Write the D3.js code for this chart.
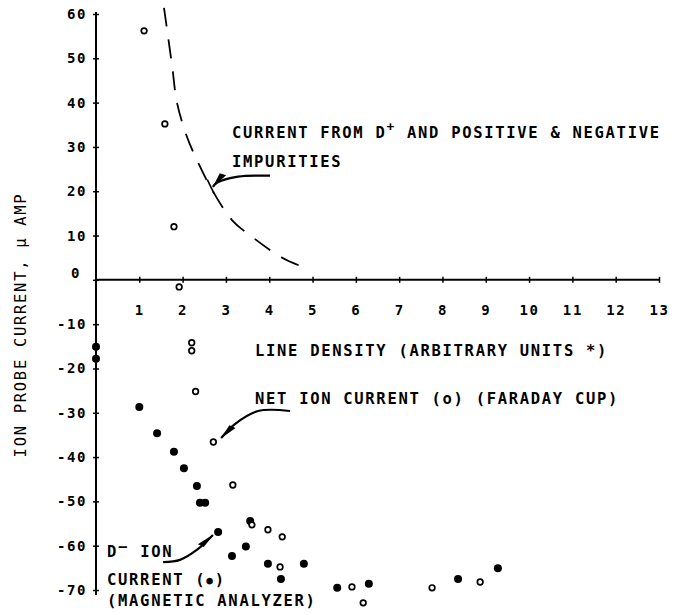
<!DOCTYPE html>
<html lang="en">
<head>
    <meta charset="UTF-8">
    <title>Ion Probe Current vs Line Density</title>
    <style>
        body {
            margin: 0;
            padding: 0;
            background-color: #ffffff;
        }

        svg text {
            font-family: "DejaVu Sans Mono", monospace;
            font-weight: bold;
            fill: #000;
        }

        .axis text {
            font-size: 14px;
            letter-spacing: 1.6px;
        }

        .note {
            font-size: 15.5px;
            letter-spacing: 1.7px;
        }
    </style>
</head>
<body>

<div id="chart"></div>

<script src="https://d3js.org/d3.v7.min.js"></script>
<script>
    // Tick values
    const xTicks = [1, 2, 3, 4, 5, 6, 7, 8, 9, 10, 11, 12, 13];
    const yTicks = [60, 50, 40, 30, 20, 10, 0, -10, -20, -30, -40, -50, -60, -70];

    // Net ion current (Faraday cup), open circles
    const netX = [1.11, 1.59, 1.80, 1.92, 2.21, 2.21, 2.30, 2.71, 3.16, 3.60, 3.97, 4.30, 4.25, 5.91, 6.17, 7.76, 8.87];
    const netY = [56.2, 35.2, 12.0, -1.6, -14.2, -16.0, -25.2, -36.6, -46.3, -55.3, -56.4, -58.0, -64.8, -69.3, -72.9, -69.5, -68.2];

    // D- ion current (magnetic analyzer), filled circles
    const dX = [0, 0, 1.00, 1.41, 1.80, 2.03, 2.33, 2.40, 2.52, 2.82, 3.14, 3.46, 3.56, 3.97, 4.27, 4.80, 5.57, 6.30, 8.36, 9.28];
    const dY = [-15.1, -17.8, -28.7, -34.6, -38.8, -42.5, -46.5, -50.3, -50.3, -56.9, -62.3, -60.2, -54.4, -64.1, -67.5, -64.1, -69.5, -68.6, -67.5, -65.1];

    // Current from D+ and impurities, dashed curve
    const curveX = [1.57, 1.76, 1.87, 2.10, 2.38, 2.63, 3.14, 3.63, 4.30, 4.83];
    const curveY = [61.4, 48.1, 40.0, 32.3, 26.0, 21.2, 13.5, 9.5, 5.0, 2.7];

    const width = 685,
          height = 615;

    const svg = d3.select("#chart").append("svg")
        .attr("width", width)
        .attr("height", height);

    const x = d3.scaleLinear().domain([0, 13]).range([96, 659]);
    const y = d3.scaleLinear().domain([-70, 60]).range([590, 14]);

    // arrowhead (slim wedge)
    svg.append("defs").append("marker")
        .attr("id", "head")
        .attr("viewBox", "-20 -6 22 12")
        .attr("refX", 0)
        .attr("refY", 0)
        .attr("markerUnits", "userSpaceOnUse")
        .attr("markerWidth", 22)
        .attr("markerHeight", 12)
        .attr("orient", "auto")
        .append("path")
        .attr("d", "M1,0 L-17,-4.5 L-15,1.8 Z")
        .attr("fill", "#000");

    // Axes
    const yAxis = svg.append("g")
        .attr("class", "axis")
        .attr("transform", `translate(${x(0)},0)`)
        .call(d3.axisLeft(y).tickValues(yTicks).tickSize(3).tickPadding(6).tickFormat(d => String(d)));

    const xAxis = svg.append("g")
        .attr("class", "axis")
        .attr("transform", `translate(0,${y(0)})`)
        .call(d3.axisBottom(x).tickValues(xTicks).tickSize(3).tickPadding(22).tickFormat(d => String(d)));

    svg.selectAll(".axis .domain").remove();
    yAxis.selectAll(".tick line").attr("x1", 3).attr("stroke-width", 1.5);
    xAxis.selectAll(".tick line").attr("y1", -3).attr("stroke-width", 1.5);
    yAxis.selectAll(".tick text").filter(d => d === 0)
        .attr("dy", "-0.15em")
        .attr("x", -15);

    svg.append("line")
        .attr("x1", x(0)).attr("x2", x(0))
        .attr("y1", y(60) - 2).attr("y2", y(-70) + 5)
        .attr("stroke", "#000").attr("stroke-width", 2);

    svg.append("line")
        .attr("x1", x(0)).attr("x2", x(13) + 1)
        .attr("y1", y(0)).attr("y2", y(0))
        .attr("stroke", "#000").attr("stroke-width", 2);

    // Dashed curve
    const curveData = curveX.map((v, i) => ({ x: v, y: curveY[i] }));
    svg.append("path")
        .datum(curveData)
        .attr("fill", "none")
        .attr("stroke", "#000")
        .attr("stroke-width", 1.8)
        .attr("stroke-dasharray", "19,13")
        .attr("d", d3.line().x(d => x(d.x)).y(d => y(d.y)).curve(d3.curveCatmullRom));

    // Points
    const netData = netX.map((v, i) => ({ x: v, y: netY[i] }));
    const dData = dX.map((v, i) => ({ x: v, y: dY[i] }));

    svg.append("g")
        .selectAll("circle")
        .data(dData)
        .enter().append("circle")
        .attr("cx", d => x(d.x))
        .attr("cy", d => y(d.y))
        .attr("r", 4)
        .attr("fill", "#000");

    svg.append("g")
        .selectAll("circle")
        .data(netData)
        .enter().append("circle")
        .attr("cx", d => x(d.x))
        .attr("cy", d => y(d.y))
        .attr("r", 2.8)
        .attr("fill", "#fff")
        .attr("stroke", "#000")
        .attr("stroke-width", 1.7);

    // Annotation arrows (data units)
    const arrows = [
        [[4.02, 23.5], [3.28, 23.3], [2.79, 21.9], [2.70, 21.0]],
        [[4.48, -29.6], [3.74, -29.6], [3.20, -32.6], [2.89, -35.7]],
        [[1.55, -63.7], [1.94, -63.2], [2.35, -60.8], [2.70, -57.6]]
    ];

    svg.append("g")
        .selectAll("path")
        .data(arrows)
        .enter().append("path")
        .attr("d", d => d3.line().x(p => x(p[0])).y(p => y(p[1])).curve(d3.curveCatmullRom)(d))
        .attr("fill", "none")
        .attr("stroke", "#000")
        .attr("stroke-width", 2.2)
        .attr("marker-end", "url(#head)");

    // small cross mark on dashed curve
    svg.append("line")
        .attr("x1", x(2.57)).attr("y1", y(22.6))
        .attr("x2", x(2.73)).attr("y2", y(19.4))
        .attr("stroke", "#000").attr("stroke-width", 1.6);

    // Labels
    svg.append("text")
        .attr("class", "note")
        .attr("transform", "translate(26,325) rotate(-90)")
        .attr("text-anchor", "middle")
        .style("font-weight", "normal")
        .text("ION PROBE CURRENT, \u03bc AMP");

    const t1 = svg.append("text").attr("class", "note").attr("x", 232).attr("y", 138);
    t1.append("tspan").text("CURRENT FROM D");
    t1.append("tspan").attr("dy", -7).attr("font-size", "13px").text("+");
    t1.append("tspan").attr("dy", 7).text(" AND POSITIVE & NEGATIVE");

    svg.append("text").attr("class", "note").attr("x", 232).attr("y", 167).text("IMPURITIES");

    svg.append("text").attr("class", "note").attr("x", 255).attr("y", 356)
        .text("LINE DENSITY (ARBITRARY UNITS *)");

    svg.append("text").attr("class", "note").attr("x", 255).attr("y", 404)
        .text("NET ION CURRENT (o) (FARADAY CUP)");

    const t2 = svg.append("text").attr("class", "note").attr("x", 107).attr("y", 557);
    t2.append("tspan").text("D");
    t2.append("tspan").attr("dy", -5).text("\u2212");
    t2.append("tspan").attr("dy", 5).text(" ION");

    const t3 = svg.append("text").attr("class", "note").attr("x", 107).attr("y", 585);
    t3.append("tspan").text("CURRENT (");
    t3.append("tspan").attr("font-size", "11px").attr("dy", -1).text("\u25cf");
    t3.append("tspan").attr("dy", 1).text(")");
    svg.append("text").attr("class", "note").attr("x", 107).attr("y", 606).text("(MAGNETIC ANALYZER)");

</script>

</body>
</html>
